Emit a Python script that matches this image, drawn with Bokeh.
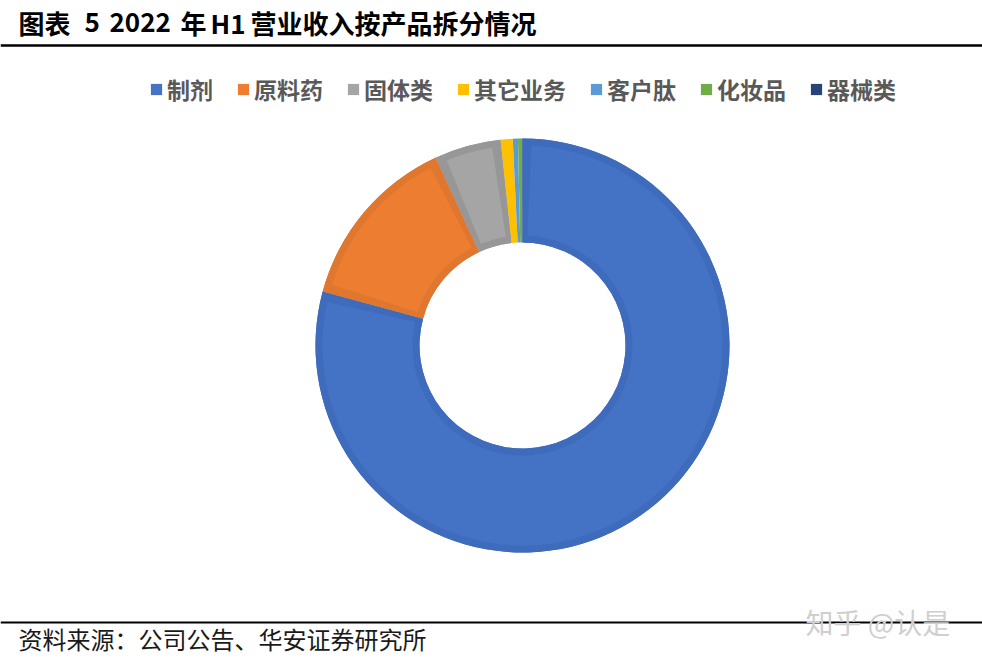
import math
import numpy as np
from bokeh.plotting import figure
from bokeh.models import Range1d, Label, Legend, LegendItem, Span, ColumnDataSource
from bokeh.embed import file_html
from bokeh.resources import INLINE

# ---- data ----
categories = ["制剂", "原料药", "固体类", "其它业务", "客户肽", "化妆品", "器械类"]
shares = [79.2, 13.9, 5.2, 0.95, 0.4, 0.3, 0.05]
colors = ["#4472C4", "#ED7D31", "#A5A5A5", "#FFC000", "#5B9BD5", "#70AD47", "#264478"]
border_colors = ["#3F6BBD", "#DF772F", "#979797", "#FFC000", "#5B9BD5", "#70AD47", "#264478"]

title_parts = ["图表", "5", "2022", "年", "H1", "营业收入按产品拆分情况"]
source_text = "资料来源：公司公告、华安证券研究所"
watermark = "知乎 @认是"

FONT = "Noto Sans CJK SC"
W, H = 982, 665

p = figure(width=W, height=H, x_range=Range1d(0, W), y_range=Range1d(0, H),
           output_backend="svg", toolbar_location=None,
           x_axis_type=None, y_axis_type=None, min_border=0,
           outline_line_color=None, background_fill_color="white",
           border_fill_color="white")
p.grid.visible = False

# ---- donut ----
cx, cy = 522, 320
R_out, R_in = 207, 103
inset = 7

vals = np.array(shares, dtype=float)
cum = np.concatenate([[0.0], np.cumsum(vals)]) / vals.sum()
start = math.pi / 2 - 2 * math.pi * cum[1:]
end = math.pi / 2 - 2 * math.pi * cum[:-1]
n = len(vals)

# base layer (all slices, base colours) - also used for legend swatches
base_src = ColumnDataSource(dict(x=[cx] * n, y=[cy] * n, start=start, end=end,
                                 color=colors, name=categories))
base_r = p.annular_wedge(x="x", y="y", inner_radius=R_in, outer_radius=R_out,
                         start_angle="start", end_angle="end", fill_color="color",
                         line_color=None, source=base_src)

mid_r = (R_in + R_out) / 2
dang = inset / mid_r
big = [i for i in range(n) if (end[i] - start[i]) > 4 * dang]

# darker outline layer for the larger slices
border_src = ColumnDataSource(dict(x=[cx] * len(big), y=[cy] * len(big),
                                   start=[start[i] for i in big],
                                   end=[end[i] for i in big],
                                   color=[border_colors[i] for i in big]))
p.annular_wedge(x="x", y="y", inner_radius=R_in, outer_radius=R_out,
                start_angle="start", end_angle="end", fill_color="color",
                line_color=None, source=border_src)

# inset lighter fill
inner_src = ColumnDataSource(dict(x=[cx] * len(big), y=[cy] * len(big),
                                  start=[start[i] + dang for i in big],
                                  end=[end[i] - dang for i in big],
                                  color=[colors[i] for i in big]))
p.annular_wedge(x="x", y="y", inner_radius=R_in + inset, outer_radius=R_out - inset,
                start_angle="start", end_angle="end", fill_color="color",
                line_color=None, source=inner_src)

# ---- legend ----
items = [LegendItem(label=name, renderers=[base_r], index=i)
         for i, name in enumerate(categories)]
legend = Legend(items=items, orientation="horizontal", location=(149, 559),
                glyph_width=14, glyph_height=14, label_standoff=4, spacing=23,
                padding=0, margin=0, border_line_alpha=0, background_fill_alpha=0,
                label_text_font=FONT, label_text_font_size="23px",
                label_text_font_style="bold", label_text_color="#595959")
p.add_layout(legend, "center")

# ---- title ----
title_x = [18, 84, 109, 180, 210, 250]
for txt, x in zip(title_parts, title_x):
    p.add_layout(Label(x=x, y=643, text=txt, text_font=FONT, text_font_size="26px",
                       text_font_style="bold", text_color="#000000",
                       text_baseline="middle", text_align="left"))

p.add_layout(Span(location=620, dimension="width", line_color="#000000", line_width=2.5))
p.add_layout(Span(location=43, dimension="width", line_color="#000000", line_width=2))

p.add_layout(Label(x=18, y=27, text=source_text, text_font=FONT, text_font_size="24px",
                   text_color="#1a1a1a", text_baseline="middle", text_align="left"))
p.add_layout(Label(x=805, y=44, text=watermark, text_font=FONT, text_font_size="28px",
                   text_color="#cfcfcf", text_baseline="middle", text_align="left"))

open("out.html", "w").write(file_html(p, INLINE))
